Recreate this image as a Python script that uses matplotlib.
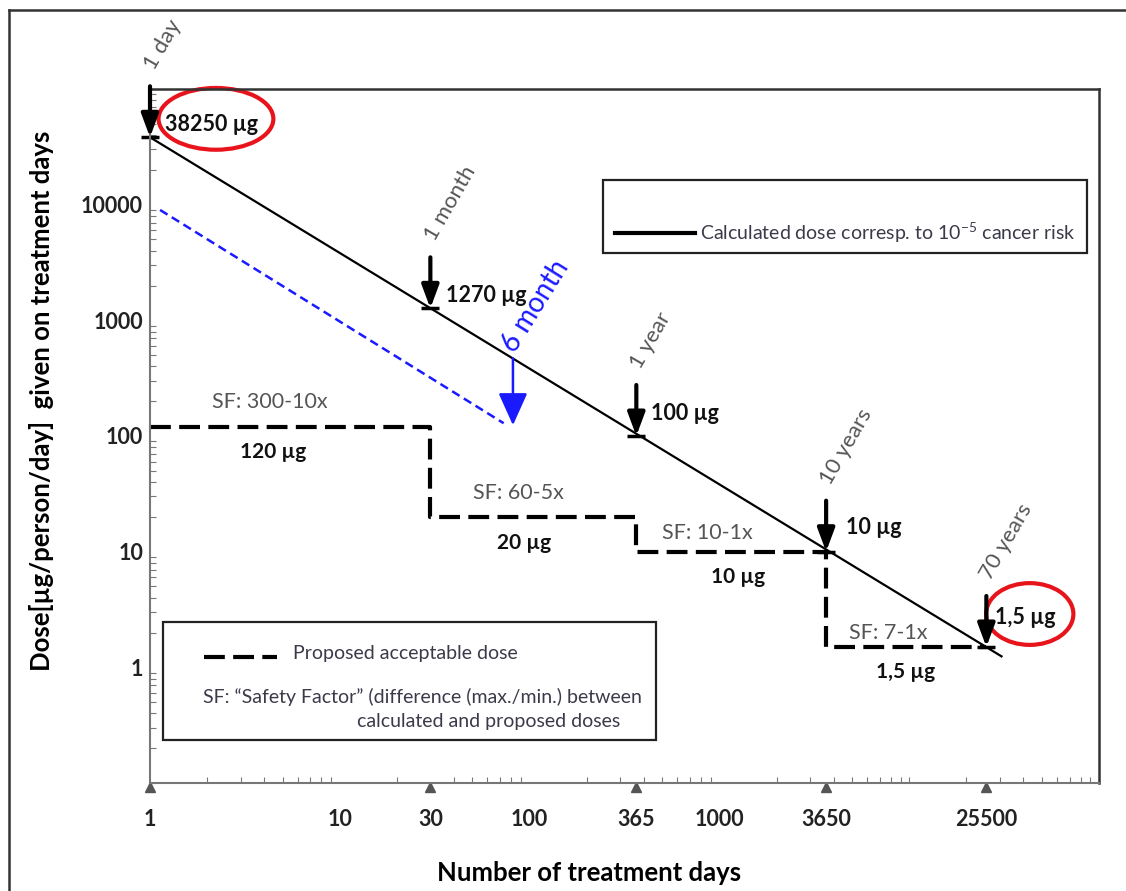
import numpy as np
import matplotlib
matplotlib.use("Agg")
import matplotlib.pyplot as plt
from matplotlib.patches import Ellipse, Rectangle
from matplotlib.lines import Line2D
from matplotlib.ticker import LogLocator, NullFormatter
import matplotlib.transforms as mtransforms

plt.rcParams["font.family"] = ["Lato", "DejaVu Sans"]

# calculated dose line (10^-5 cancer risk)
calc_days = [1, 31000]
calc_dose = [38250, 1.23]

# points marked with arrows on the calculated line
mark_days = [1, 30, 365, 3650, 25500]
mark_dose = [38250, 1270, 100, 10, 1.5]
mark_labels = ["38250 µg", "1270 µg", "100 µg", "10 µg", "1,5 µg"]
period_labels = ["1 day", "1 month", "1 year", "10 years", "70 years"]

# proposed acceptable dose (step line)
prop_days = [1, 30, 365, 3650, 25500]
prop_dose = [120, 20, 10, 1.5, 1.5]
prop_labels = ["120 µg", "20 µg", "10 µg", "1,5 µg"]
sf_labels = ["SF: 300-10x", "SF: 60-5x", "SF: 10-1x", "SF: 7-1x"]

# blue "6 month" line and arrow
blue_days = [1.13, 73]
blue_dose = [9000, 129]
six_month_day = 81.7
six_month_from = 470
six_month_to = 124

x_ticks = [1, 10, 30, 100, 365, 1000, 3650, 25500]
y_ticks = [1, 10, 100, 1000, 10000]
tri_days = [1, 30, 365, 3650, 25500]

fig = plt.figure(figsize=(11.26, 8.91), dpi=100)
ax = fig.add_axes([150 / 1126, 108 / 891, 949 / 1126, 694 / 891])
ax.set_xscale("log")
ax.set_yscale("log")
ax.set_xlim(1, 1e5)
ax.set_ylim(0.1, 1e5)

# main lines
ax.plot(calc_days, calc_dose, color="black", lw=1.6, solid_capstyle="butt")
ax.step(prop_days, prop_dose, where="post", color="black", lw=3,
        linestyle=(0, (5, 2)))
ax.plot(blue_days, blue_dose, color="#1a1aff", lw=1.8, linestyle=(0, (3.5, 2)))
ax.annotate("", xy=(six_month_day, six_month_to), xytext=(six_month_day, six_month_from),
            arrowprops=dict(arrowstyle="-|>,head_length=1.0,head_width=0.45",
                            color="#1a1aff", lw=1.8, shrinkA=0, shrinkB=0,
                            mutation_scale=20))
ax.text(six_month_day, six_month_from, "6 month", color="#1a1aff", fontsize=20,
        rotation=58, rotation_mode="anchor", ha="left", va="bottom",
        transform=mtransforms.offset_copy(ax.transData, fig, x=6, y=2, units="dots"))

# arrows + labels at the marked points
val_offsets = [(15, 13), (16, 13), (15, 23), (20, 24), (9, 29)]
for d, v, lab, per, off in zip(mark_days, mark_dose, mark_labels, period_labels, val_offsets):
    ax.annotate("", xy=(d, v), xytext=(0, 51), textcoords="offset pixels",
                arrowprops=dict(arrowstyle="-|>,head_length=0.7,head_width=0.26",
                                color="black", lw=3, shrinkA=0, shrinkB=0,
                                mutation_scale=20), annotation_clip=False)
    ax.plot([d], [v], marker="_", ms=13, mew=2.5, color="black", clip_on=False)
    ax.annotate(lab, xy=(d, v), xytext=off, textcoords="offset pixels",
                fontsize=15.5, fontweight="bold", color="#111111",
                ha="left", va="center")
    ax.annotate(per, xy=(d, v), xytext=(8, 64), textcoords="offset pixels",
                fontsize=16, color="#555555", rotation=60, rotation_mode="anchor",
                ha="left", va="bottom", annotation_clip=False)

# SF and dose labels along the step line
sf_pos = [(4.3, 197), (86.9, 32.1), (860, 14.5), (7730, 1.98)]
dose_pos = [(4.45, 72.8), (93.4, 11.9), (1253, 6.04), (9620, 0.91)]
for txt, (x, y) in zip(sf_labels, sf_pos):
    ax.text(x, y, txt, fontsize=15.5, color="#555555", ha="center", va="center")
for txt, (x, y) in zip(prop_labels, dose_pos):
    ax.text(x, y, txt, fontsize=15, fontweight="bold", color="#111111",
            ha="center", va="center")

# red ellipses around the two extreme values
ax.add_patch(Ellipse((0.0695, 0.957), 0.121, 0.089, transform=ax.transAxes,
                     fill=False, edgecolor="#e8141b", lw=3, clip_on=False))
ax.add_patch(Ellipse((0.927, 0.2435), 0.092, 0.089, transform=ax.transAxes,
                     fill=False, edgecolor="#e8141b", lw=3, clip_on=False))

# legend boxes drawn by hand
ax.add_patch(Rectangle((0.477, 0.764), 0.510, 0.105, transform=ax.transAxes,
                       fill=False, edgecolor="#222222", lw=1.6))
ax.plot([0.490, 0.574], [0.7925, 0.7925], transform=ax.transAxes, color="black", lw=3)
ax.text(0.580, 0.7925, r"Calculated dose corresp. to 10$^{\mathregular{-5}}$ cancer risk",
        transform=ax.transAxes, fontsize=14, color="#3a3a4a", va="center")

ax.add_patch(Rectangle((0.0137, 0.062), 0.520, 0.170, transform=ax.transAxes,
                       fill=False, edgecolor="#222222", lw=1.6))
ax.plot([0.057, 0.134], [0.182, 0.182], transform=ax.transAxes, color="black",
        lw=3, linestyle=(0, (5, 2)))
ax.text(0.151, 0.186, "Proposed acceptable dose", transform=ax.transAxes,
        fontsize=14, color="#3a3a4a", va="center")
ax.text(0.287, 0.124, "SF: \u201cSafety Factor\u201d (difference (max./min.) between",
        transform=ax.transAxes, fontsize=14, color="#3a3a4a", ha="center", va="center")
ax.text(0.357, 0.088, "calculated and proposed doses", transform=ax.transAxes,
        fontsize=14, color="#3a3a4a", ha="center", va="center")

# triangles on the x axis
tri_trans = mtransforms.offset_copy(ax.get_xaxis_transform(), fig, y=-4, units="dots")
ax.plot(tri_days, [0] * len(tri_days), linestyle="none", marker="^", ms=7,
        color="#555555", transform=tri_trans, clip_on=False)

# ticks and labels
ax.set_xticks(x_ticks)
ax.set_xticklabels([str(t) for t in x_ticks])
ax.set_yticks(y_ticks)
ax.set_yticklabels([str(t) for t in y_ticks])
ax.xaxis.set_minor_locator(LogLocator(base=10, subs=np.arange(1, 10), numticks=20))
ax.yaxis.set_minor_locator(LogLocator(base=10, subs=np.arange(1, 10), numticks=20))
ax.xaxis.set_minor_formatter(NullFormatter())
ax.yaxis.set_minor_formatter(NullFormatter())
ax.tick_params(axis="x", which="major", length=0, pad=19, labelsize=15.5, labelcolor="#222222")
ax.tick_params(axis="y", which="major", length=0, pad=5, labelsize=15.5, labelcolor="#222222")
ax.tick_params(which="minor", direction="in", length=4, width=0.8, color="#777777")
for lab in ax.get_xticklabels() + ax.get_yticklabels():
    lab.set_fontweight("bold")

for side in ["left", "bottom"]:
    ax.spines[side].set_color("#777777")
    ax.spines[side].set_linewidth(1.5)
for side in ["top", "right"]:
    ax.spines[side].set_color("#333333")
    ax.spines[side].set_linewidth(1.8)

ax.set_xlabel("Number of treatment days", fontsize=18.5, fontweight="bold")
ax.xaxis.set_label_coords(0.4626, -0.113)
ax.set_ylabel("Dose[µg/person/day]  given on treatment days", fontsize=18.5, fontweight="bold")
ax.yaxis.set_label_coords(-0.101, 0.55)

# outer frame lines of the screenshot
fig.add_artist(Line2D([0.008, 1.0], [0.9888, 0.9888], transform=fig.transFigure,
                      color="#333333", lw=1.8))
fig.add_artist(Line2D([0.008, 0.008], [0.0, 0.9888], transform=fig.transFigure,
                      color="#333333", lw=1.8))

fig.savefig("out.png", dpi=100)
